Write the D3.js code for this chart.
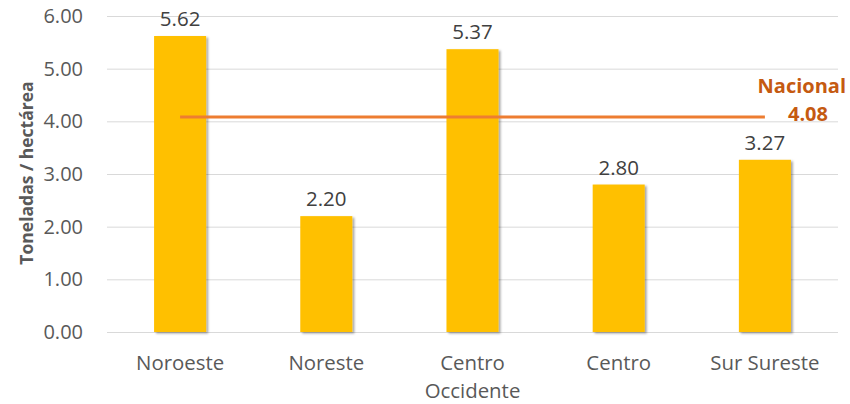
<!DOCTYPE html>
<html>
<head>
<meta charset="utf-8">
<script src="https://cdn.jsdelivr.net/npm/d3@7"></script>
<style>
  body { margin: 0; background: #fff; }
  svg { display: block; font-family: "Open Sans", sans-serif; }
</style>
</head>
<body>
<div id="chart"></div>
<script>
// datos
const regiones = [["Noroeste"], ["Noreste"], ["Centro", "Occidente"], ["Centro"], ["Sur Sureste"]]
const rendimiento = [5.62, 2.20, 5.37, 2.80, 3.27]
const nacional = 4.08
const ticks = [0, 1, 2, 3, 4, 5, 6]

const W = 850, H = 404
const margin = { top: 16, right: 12, bottom: 72, left: 107 }
const width = W - margin.left - margin.right
const height = H - margin.top - margin.bottom

const svg = d3.select("#chart").append("svg")
    .attr("width", W)
    .attr("height", H)

const defs = svg.append("defs")
const f = defs.append("filter").attr("id", "sombra")
    .attr("x", "-20%").attr("y", "-20%").attr("width", "140%").attr("height", "140%")
f.append("feDropShadow")
    .attr("dx", 2).attr("dy", 1.5).attr("stdDeviation", 1.2)
    .attr("flood-color", "#000").attr("flood-opacity", 0.35)

const g = svg.append("g")
    .attr("transform", "translate(" + margin.left + "," + margin.top + ")")

const idx = regiones.map((d, i) => i)
const x = d3.scaleBand().domain(idx).range([0, width]).paddingInner(0.644).paddingOuter(0.322)
const y = d3.scaleLinear().domain([0, 6]).range([height, 0])

// grid
g.append("g")
    .call(d3.axisLeft(y).tickValues(ticks).tickSize(-width).tickFormat(d3.format(".2f")))
    .call(a => a.select(".domain").remove())
    .call(a => a.selectAll("line").attr("stroke", "#d9d9d9").attr("stroke-width", 1))
    .call(a => a.selectAll("text").attr("x", -24).attr("fill", "#595959")
        .style("font-size", "20px").style("font-family", "Open Sans"))

// barras
g.selectAll(".bar")
    .data(rendimiento)
    .enter().append("rect")
    .attr("class", "bar")
    .attr("x", (d, i) => x(i))
    .attr("width", x.bandwidth())
    .attr("y", d => y(d))
    .attr("height", d => height - y(d))
    .attr("fill", "#FFC000")
    .attr("filter", "url(#sombra)")

// etiquetas de valor
g.selectAll(".val")
    .data(rendimiento)
    .enter().append("text")
    .attr("x", (d, i) => x(i) + x.bandwidth() / 2)
    .attr("y", d => y(d) - 10)
    .attr("text-anchor", "middle")
    .attr("fill", "#404040")
    .style("font-size", "20.5px")
    .text(d => d.toFixed(2))

// eje x
const xl = g.append("g").attr("transform", "translate(0," + height + ")")
xl.selectAll("text")
    .data(regiones)
    .enter().append("text")
    .attr("x", (d, i) => x(i) + x.bandwidth() / 2)
    .attr("y", 38)
    .attr("text-anchor", "middle")
    .attr("fill", "#595959")
    .style("font-size", "20.4px")
    .each(function (d) {
        d.forEach((t, k) => d3.select(this).append("tspan")
            .attr("x", x(regiones.indexOf(d)) + x.bandwidth() / 2)
            .attr("dy", k ? 28 : 0).text(t))
    })

// linea nacional
const cx0 = x(0) + x.bandwidth() / 2
const cx1 = x(idx.length - 1) + x.bandwidth() / 2
g.append("line")
    .attr("x1", cx0).attr("x2", cx1)
    .attr("y1", y(nacional)).attr("y2", y(nacional))
    .attr("stroke", "#ED7D31").attr("stroke-width", 3)

g.append("text")
    .attr("x", width + 8).attr("y", y(nacional) - 24)
    .attr("text-anchor", "end")
    .attr("fill", "#C55A11")
    .style("font-size", "20px").style("font-weight", "bold")
    .text("Nacional")
g.append("text")
    .attr("x", width - 10).attr("y", y(nacional) + 4)
    .attr("text-anchor", "end")
    .attr("fill", "#C55A11")
    .style("font-size", "20px").style("font-weight", "bold")
    .text(nacional.toFixed(2))

// titulo eje y
svg.append("text")
    .attr("transform", "translate(33,173) rotate(-90)")
    .attr("text-anchor", "middle")
    .attr("fill", "#595959")
    .style("font-size", "17.5px").style("font-weight", "bold")
    .text("Toneladas / hectárea")
</script>
</body>
</html>
